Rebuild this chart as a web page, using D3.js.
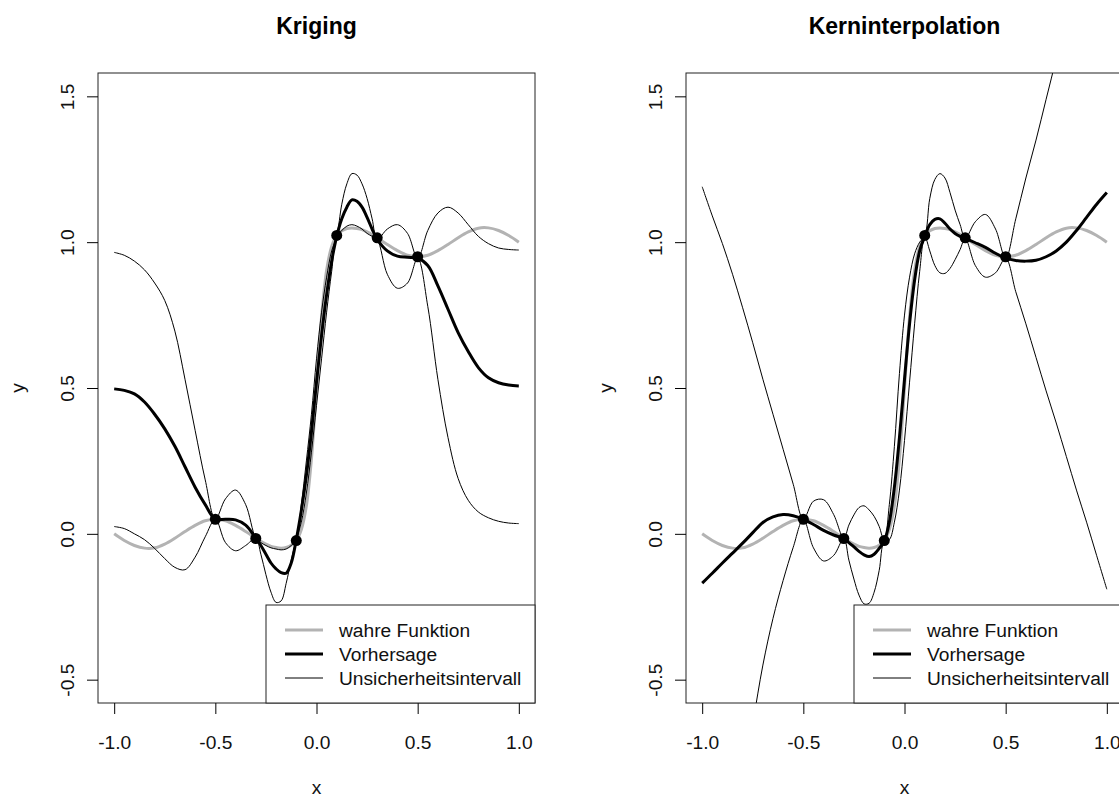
<!DOCTYPE html>
<html>
<head>
<meta charset="utf-8">
<script src="https://cdn.jsdelivr.net/npm/d3@7"></script>
<style>
  html, body { margin: 0; padding: 0; background: #fff; }
  svg { display: block; font-family: "Liberation Sans", Arial, sans-serif; }
</style>
</head>
<body>
<svg id="svg" width="1119" height="798"></svg>
<script>
const xGrid = [-1, -0.95, -0.9, -0.85, -0.8, -0.75, -0.7, -0.65, -0.6, -0.55, -0.5, -0.45, -0.4, -0.35, -0.3,
  -0.275, -0.25, -0.225, -0.2, -0.175, -0.15, -0.125, -0.1, -0.075, -0.05, -0.025, 0, 0.025, 0.05, 0.075, 0.1,
  0.125, 0.15, 0.175, 0.2, 0.225, 0.25, 0.275, 0.3, 0.35, 0.4, 0.45, 0.5, 0.55, 0.6, 0.65, 0.7, 0.75, 0.8,
  0.85, 0.9, 0.95, 1];

// wahre Funktion (same in both panels)
const trueY = [0, -0.023, -0.04, -0.049, -0.048, -0.035, -0.015, 0.008, 0.029, 0.045, 0.05, 0.045, 0.029, 0.008, -0.015,
  -0.026, -0.035, -0.043, -0.047, -0.049, -0.047, -0.039, -0.023, 0.015, 0.096, 0.257, 0.5, 0.743, 0.904, 0.985, 1.023,
  1.039, 1.047, 1.049, 1.047, 1.043, 1.035, 1.026, 1.015, 0.992, 0.971, 0.955, 0.95, 0.955, 0.971, 0.992, 1.015, 1.035, 1.048,
  1.049, 1.04, 1.023, 1.0];

// Kriging
const krigFit = [0.497, 0.492, 0.48, 0.452, 0.41, 0.36, 0.3, 0.23, 0.16, 0.1, 0.05, 0.05, 0.048, 0.03, -0.015,
  -0.04, -0.07, -0.1, -0.12, -0.133, -0.135, -0.1, -0.02, 0.08, 0.2, 0.35, 0.52, 0.68, 0.82, 0.935, 1.02,
  1.08, 1.12, 1.145, 1.14, 1.12, 1.085, 1.045, 1.01, 0.97, 0.952, 0.948, 0.945, 0.92, 0.85, 0.77, 0.69, 0.625, 0.57,
  0.535, 0.518, 0.51, 0.507];
const krigUpper = [0.965, 0.955, 0.935, 0.905, 0.86, 0.8, 0.695, 0.53, 0.355, 0.185, 0.05, 0.12, 0.15, 0.1, -0.015,
  -0.03, -0.04, -0.048, -0.052, -0.055, -0.052, -0.04, -0.02, 0.1, 0.25, 0.41, 0.6, 0.76, 0.88, 0.97, 1.02,
  1.13, 1.2, 1.235, 1.23, 1.2, 1.15, 1.08, 1.01, 1.045, 1.06, 1.03, 0.945, 1.04, 1.1, 1.12, 1.1, 1.06, 1.02,
  0.995, 0.98, 0.975, 0.973];
const krigLower = [0.025, 0.018, 0.0, -0.02, -0.05, -0.085, -0.115, -0.123, -0.08, -0.01, 0.05, -0.03, -0.058, -0.04, -0.015,
  -0.07, -0.14, -0.2, -0.235, -0.23, -0.17, -0.09, -0.02, 0.04, 0.14, 0.28, 0.44, 0.6, 0.76, 0.9, 1.02,
  1.04, 1.055, 1.06, 1.055, 1.045, 1.03, 1.02, 1.01, 0.89, 0.842, 0.86, 0.945, 0.78, 0.53, 0.33, 0.19, 0.115, 0.075,
  0.055, 0.043, 0.037, 0.035];

// Kerninterpolation
const kernFit = [-0.169, -0.135, -0.1, -0.066, -0.032, 0.004, 0.039, 0.058, 0.066, 0.062, 0.05, 0.032, 0.012, -0.004, -0.016,
  -0.03, -0.045, -0.06, -0.072, -0.078, -0.07, -0.05, -0.025, 0.04, 0.16, 0.33, 0.53, 0.72, 0.87, 0.97, 1.02,
  1.06, 1.078, 1.08, 1.065, 1.045, 1.03, 1.02, 1.013, 0.998, 0.982, 0.962, 0.945, 0.937, 0.935, 0.938, 0.95, 0.97, 1.0,
  1.04, 1.085, 1.13, 1.17];
const kernUpper = [1.19, 1.09, 0.995, 0.89, 0.775, 0.655, 0.53, 0.41, 0.29, 0.17, 0.05, 0.112, 0.117, 0.066, -0.016,
  0.03, 0.065, 0.09, 0.096, 0.082, 0.06, 0.025, -0.025, 0.1, 0.3, 0.55, 0.75, 0.88, 0.96, 1.0, 1.02,
  1.15, 1.215, 1.235, 1.22, 1.17, 1.11, 1.06, 1.013, 1.07, 1.095, 1.045, 0.945, 1.08, 1.22, 1.35, 1.49, 1.63, 1.78,
  1.94, 2.11, 2.3, 2.5];
const kernLower = [-1.53, -1.36, -1.195, -1.03, -0.84, -0.65, -0.45, -0.29, -0.16, -0.046, 0.05, -0.048, -0.093, -0.074, -0.016,
  -0.09, -0.155, -0.21, -0.24, -0.238, -0.2, -0.125, -0.025, -0.02, 0.04, 0.15, 0.32, 0.52, 0.72, 0.9, 1.02,
  0.97, 0.92, 0.895, 0.893, 0.91, 0.94, 0.975, 1.013, 0.92, 0.88, 0.895, 0.945, 0.83, 0.72, 0.605, 0.49, 0.38, 0.265,
  0.15, 0.04, -0.075, -0.19];

// Stuetzstellen
const obsX = [-0.5, -0.3, -0.1, 0.1, 0.3, 0.5];
const obsY = [0.05, -0.016, -0.023, 1.023, 1.015, 0.95];

const xTicks = [-1, -0.5, 0, 0.5, 1];
const yTicks = [-0.5, 0, 0.5, 1, 1.5];
const legendLabels = ["wahre Funktion", "Vorhersage", "Unsicherheitsintervall"];

const panels = [
  {title: "Kriging", left: 98, fit: krigFit, upper: krigUpper, lower: krigLower},
  {title: "Kerninterpolation", left: 686, fit: kernFit, upper: kernUpper, lower: kernLower}
];

const plotW = 437, plotTop = 73, plotBottom = 703;
const grey = "#b3b3b3";
const fontSize = 19.2;

const svg = d3.select("#svg");

panels.forEach((p, i) => {
  const x = d3.scaleLinear().domain([-1.08, 1.08]).range([p.left, p.left + plotW]);
  const y = d3.scaleLinear().domain([-0.58, 1.58]).range([plotBottom, plotTop]);

  svg.append("clipPath")
      .attr("id", "clip" + i)
    .append("rect")
      .attr("x", p.left).attr("y", plotTop)
      .attr("width", plotW).attr("height", plotBottom - plotTop);

  const line = (vals) => d3.line()
      .x((d, j) => x(xGrid[j]))
      .y(d => y(d))
      .curve(d3.curveCatmullRom.alpha(0.5))(vals);

  const g = svg.append("g").attr("clip-path", "url(#clip" + i + ")");

  // wahre Funktion
  g.append("path")
      .attr("d", line(trueY))
      .attr("fill", "none").attr("stroke", grey).attr("stroke-width", 3);

  // Vorhersage
  g.append("path")
      .attr("d", line(p.fit))
      .attr("fill", "none").attr("stroke", "#000").attr("stroke-width", 3);

  // Unsicherheitsintervall
  [p.upper, p.lower].forEach(vals => {
    g.append("path")
        .attr("d", line(vals))
        .attr("fill", "none").attr("stroke", "#000").attr("stroke-width", 1);
  });

  g.selectAll("circle")
      .data(obsX)
    .enter().append("circle")
      .attr("cx", d => x(d))
      .attr("cy", (d, j) => y(obsY[j]))
      .attr("r", 5.5)
      .attr("fill", "#000");

  // box
  svg.append("rect")
      .attr("x", p.left).attr("y", plotTop)
      .attr("width", plotW).attr("height", plotBottom - plotTop)
      .attr("fill", "none").attr("stroke", "#222").attr("stroke-width", 1);

  // x axis
  const xAxis = svg.append("g")
      .attr("transform", "translate(0," + plotBottom + ")")
      .call(d3.axisBottom(x).tickValues(xTicks).tickSize(11).tickPadding(21)
        .tickFormat(d => d.toFixed(1)));
  xAxis.select(".domain").remove();
  xAxis.selectAll("text").style("font-size", fontSize + "px").attr("fill", "#111");

  // y axis, labels turned like R does
  const yAxis = svg.append("g")
      .attr("transform", "translate(" + p.left + ",0)")
      .call(d3.axisLeft(y).tickValues(yTicks).tickSize(11)
        .tickFormat(d => d.toFixed(1)));
  yAxis.select(".domain").remove();
  yAxis.selectAll("text")
      .attr("x", 0).attr("y", -24).attr("dy", 0)
      .attr("transform", "rotate(-90)")
      .attr("text-anchor", "middle")
      .attr("fill", "#111")
      .style("font-size", fontSize + "px");

  // titles and axis names
  svg.append("text")
      .attr("x", p.left + plotW / 2).attr("y", 34)
      .attr("text-anchor", "middle")
      .style("font-size", "23px").style("font-weight", "bold")
      .text(p.title);

  svg.append("text")
      .attr("x", p.left + plotW / 2).attr("y", 794)
      .attr("text-anchor", "middle")
      .attr("fill", "#111")
      .style("font-size", fontSize + "px")
      .text("x");

  svg.append("text")
      .attr("transform", "translate(" + (p.left - 74) + "," + (plotTop + plotBottom) / 2 + ") rotate(-90)")
      .attr("text-anchor", "middle")
      .attr("fill", "#111")
      .style("font-size", fontSize + "px")
      .text("y");

  // legend bottomright
  const legW = 269, legH = 98;
  const lx = p.left + plotW - legW, ly = plotBottom - legH;
  const legend = svg.append("g").attr("class", "legend");
  legend.append("rect")
      .attr("x", lx).attr("y", ly).attr("width", legW).attr("height", legH)
      .attr("fill", "#fff").attr("stroke", "#222").attr("stroke-width", 1);

  const legStyle = [{c: grey, w: 3}, {c: "#000", w: 3}, {c: "#000", w: 1}];
  legendLabels.forEach((lab, j) => {
    const ry = ly + 25 + j * 24;
    legend.append("line")
        .attr("x1", lx + 19).attr("x2", lx + 57)
        .attr("y1", ry).attr("y2", ry)
        .attr("stroke", legStyle[j].c).attr("stroke-width", legStyle[j].w);
    legend.append("text")
        .attr("x", lx + 73).attr("y", ry + 7)
        .attr("fill", "#111")
        .style("font-size", fontSize + "px")
        .text(lab);
  });
});
</script>
</body>
</html>
